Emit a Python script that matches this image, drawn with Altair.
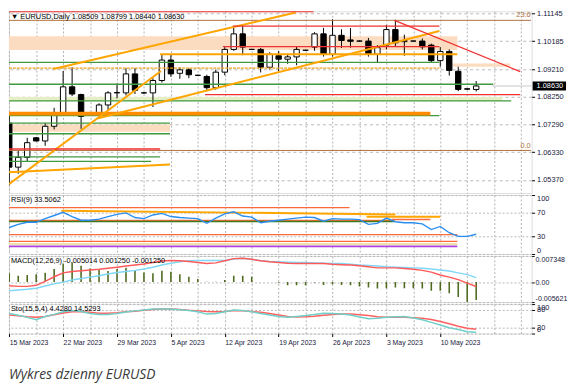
import altair as alt
import pandas as pd

# ---------------- data ----------------
bar_dates = ["2023-03-15","2023-03-16","2023-03-17","2023-03-19","2023-03-20","2023-03-21","2023-03-22",
             "2023-03-23","2023-03-24","2023-03-26","2023-03-27","2023-03-28","2023-03-29","2023-03-30",
             "2023-03-31","2023-04-02","2023-04-03","2023-04-04","2023-04-05","2023-04-06","2023-04-07",
             "2023-04-09","2023-04-10","2023-04-11","2023-04-12","2023-04-13","2023-04-14","2023-04-16",
             "2023-04-17","2023-04-18","2023-04-19","2023-04-20","2023-04-21","2023-04-23","2023-04-24",
             "2023-04-25","2023-04-26","2023-04-27","2023-04-28","2023-04-30","2023-05-01","2023-05-02",
             "2023-05-03","2023-05-04","2023-05-05","2023-05-07","2023-05-08","2023-05-09","2023-05-10",
             "2023-05-11","2023-05-12","2023-05-14","2023-05-15"]
opens = [1.0734,1.0581,1.0615,1.0683,1.0672,1.0723,1.0771,1.0860,1.0833,1.0770,1.0766,1.0797,1.0839,1.0839,
         1.0905,1.0839,1.0839,1.0882,1.0953,1.0907,1.0919,1.0900,1.0896,1.0857,1.0911,1.0990,1.1044,1.0990,
         1.0990,1.0928,1.0968,1.0956,1.0964,1.0987,1.0998,1.1044,1.0973,1.1039,1.1023,1.1019,1.1019,1.0973,
         1.1005,1.1059,1.1017,1.1019,1.1019,1.1005,1.0951,1.0983,1.0914,1.0853,1.08509]
highs = [1.0760,1.0638,1.0683,1.0686,1.0735,1.0787,1.0915,1.0928,1.0836,1.0772,1.0803,1.0845,1.0871,1.0925,
         1.0925,1.0842,1.0890,1.0973,1.0970,1.0928,1.0925,1.0902,1.0902,1.0920,1.0998,1.1065,1.1075,1.0992,
         1.0995,1.0980,1.0985,1.0975,1.1000,1.0989,1.1050,1.1065,1.1095,1.1060,1.1064,1.1021,1.1030,1.1005,
         1.1075,1.1093,1.1041,1.1021,1.1028,1.1010,1.0998,1.0990,1.0930,1.0855,1.08799]
lows = [1.0518,1.0558,1.0600,1.0670,1.0655,1.0712,1.0760,1.0828,1.0714,1.0764,1.0762,1.0780,1.0820,1.0830,
        1.0835,1.0836,1.0790,1.0875,1.0895,1.0888,1.0890,1.0898,1.0845,1.0850,1.0900,1.0985,1.0970,1.0988,
        1.0910,1.0920,1.0915,1.0940,1.0935,1.0985,1.0985,1.0965,1.0965,1.0995,1.0996,1.1017,1.0965,1.0945,
        1.0990,1.1000,1.0968,1.1017,1.0990,1.0945,1.0930,1.0899,1.0845,1.0850,1.08440]
closes = [1.0581,1.0615,1.0666,1.0672,1.0723,1.0768,1.0860,1.0835,1.0757,1.0768,1.0797,1.0839,1.0840,1.0905,
          1.0848,1.0839,1.0882,1.0953,1.0905,1.0919,1.0902,1.0900,1.0857,1.0911,1.0990,1.1044,1.0998,1.0990,
          1.0928,1.0973,1.0956,1.0964,1.0990,1.0987,1.1044,1.0973,1.1039,1.1021,1.1018,1.1019,1.0973,1.0996,
          1.1059,1.1013,1.1021,1.1019,1.0999,1.0951,1.0983,1.0917,1.0851,1.0852,1.08630]

rsi_values = [44.9,50.3,53.8,53.8,60.0,65.3,70.6,63.5,57.3,57.3,59.1,63.5,67.1,69.7,61.8,60.0,66.2,68.8,
              63.5,61.8,60.9,60.0,52.0,60.9,68.0,71.5,64.4,62.6,52.9,55.6,57.3,59.1,60.9,62.6,61.8,55.6,
              60.0,59.1,59.1,58.2,50.3,52.0,60.9,54.7,52.9,52.9,51.1,41.4,46.7,36.1,29.9,29.9,33.5]

macd_hist = [0.0025,0.0018,0.0020,0.0022,0.0026,0.0037,0.0052,0.0055,0.0046,0.0038,0.0034,0.0031,0.0037,
             0.0040,0.0034,0.0027,0.0025,0.0032,0.0029,0.0022,0.0015,0.0009,0.0001,0.0001,0.0006,0.0018,
             0.0018,0.0015,0.0000,0.0000,-0.0002,-0.0009,-0.0009,-0.0009,-0.0001,-0.0008,-0.0006,-0.0008,
             -0.0009,-0.0012,-0.0015,-0.0018,-0.0017,-0.0015,-0.0017,-0.0017,-0.0018,-0.0024,-0.0024,
             -0.0031,-0.0042,-0.005621,-0.005014]
macd_red = [-0.0010,-0.0012,-0.0012,-0.0009,0.0002,0.0015,0.0026,0.0030,0.0032,0.0034,0.0036,0.0039,0.0042,
            0.0045,0.0048,0.0051,0.0055,0.0059,0.0061,0.0060,0.0058,0.0055,0.0052,0.0054,0.0060,0.0066,
            0.0067,0.0064,0.0060,0.0057,0.0055,0.0053,0.0052,0.0052,0.0052,0.0052,0.0050,0.0049,0.0048,
            0.0046,0.0043,0.0040,0.0040,0.0040,0.0038,0.0036,0.0033,0.0028,0.0020,0.0014,0.0007,-0.0003,-0.00125]
macd_blue = [-0.0024,-0.0022,-0.0020,-0.0017,-0.0011,-0.0005,0.0000,0.0006,0.0010,0.0014,0.0018,0.0023,
             0.0027,0.0030,0.0033,0.0037,0.0042,0.0048,0.0053,0.0057,0.0060,0.0061,0.0061,0.0061,0.0061,
             0.0065,0.0067,0.0064,0.0060,0.0058,0.0057,0.0056,0.0055,0.0055,0.0054,0.0053,0.0052,0.0052,
             0.0050,0.0048,0.0047,0.0045,0.0043,0.0042,0.0041,0.0040,0.0039,0.0037,0.0034,0.0031,0.0026,
             0.0021,0.001258]

sto_main = [68,62,55,47,58,65,74,78,75,68,65,65,68,73,77,80,83,83,83,81,78,74,66,68,74,80,78,74,68,63,58,
            55,58,61,65,69,68,66,63,56,50,52,55,57,58,53,47,38,29,20,14,6,4.428]
sto_signal = [63,60,57,55,58,64,70,74,74,72,69,69,71,74,76,79,82,83,83,82,79,77,75,74,75,78,77,75,72,68,63,
              58,56,57,59,62,65,66,66,64,61,57,55,55,55,54,52,48,41,33,25,18,14.5293]

date_labels = ["15 Mar 2023", "22 Mar 2023", "29 Mar 2023", "5 Apr 2023", "12 Apr 2023",
               "19 Apr 2023", "26 Apr 2023", "3 May 2023", "10 May 2023"]
price_ticks = [1.11145, 1.10185, 1.09210, 1.08250, 1.07290, 1.06330, 1.05370]
rsi_ticks = [100, 70, 30, 0]
macd_ticks = [0.007348, 0.0, -0.005621]
macd_tick_labels = ["0.007348", "0.00", "-0.005621"]
sto_ticks = [100, 80, 20, 0]
last_price = 1.08630

title_main = "\u25bc EURUSD,Daily  1.08509 1.08799 1.08440 1.08630"
title_rsi = "RSI(9) 33.5062"
title_macd = "MACD(12,26,9) -0.005014 0.001250 -0.001250"
title_sto = "Sto(15,5,4) 4.4280 14.5293"
caption = "Wykres dzienny EURUSD"

# drawn objects on the price chart: (start bar, end bar, start price, end price)
red_lines = [(-0.03, 33.9, 1.1121, 1.1121), (24.9, 47.9, 1.1071, 1.1071), (23.8, 47.9, 1.1000, 1.1000),
             (21.8, 56.9, 1.0833, 1.0833), (-0.03, 16.8, 1.0644, 1.0644), (42.9, 56.9, 1.1091, 1.0913)]
orange_lines = [(-0.03, 16.9, 1.0522, 1.0915), (4.9, 31.9, 1.0922, 1.1118), (9.8, 47.9, 1.0750, 1.1054),
                (-0.03, 17.9, 1.0563, 1.0590), (16.8, 49.9, 1.0973, 1.0973)]
orange_dotted = [(-0.03, 47.9, 1.0925, 1.0925)]
orange_thick = [(-0.03, 46.9, 1.0767, 1.0767)]
green_lines = [(-0.03, 47.9, 1.0945, 1.0945), (-0.03, 53.9, 1.0869, 1.0869), (-0.03, 55.9, 1.0811, 1.0811),
               (-0.03, 47.9, 1.0760, 1.0760), (-0.03, 17.9, 1.0734, 1.0734), (-0.03, 17.9, 1.0697, 1.0697),
               (-0.03, 16.8, 1.0617, 1.0617), (-0.03, 15.8, 1.0601, 1.0601)]
fib_levels = [(-0.03, 58.1, 1.1091, 1.1091), (-0.03, 58.1, 1.0639, 1.0639)]
fib_names = ["23.6", "0.0"]
peach_zones = [(-0.03, 49.9, 1.1036, 1.0988), (-0.03, 17.9, 1.0729, 1.0704), (49.4, 55.8, 1.0941, 1.0930)]
green_zones = [(-0.03, 54.9, 1.0825, 1.0811)]

# drawn objects on the RSI window: (start bar, end bar, start value, end value)
rsi_coral = [(-0.03, 37.9, 78.6, 78.6), (42.6, 46.9, 58.5, 58.5), (-0.03, 42.9, 57.1, 57.1),
             (-0.03, 49.9, 32.8, 32.8), (-0.03, 49.9, 21.4, 21.4)]
rsi_gold = [(5.8, 43.0, 73.4, 67.1), (39.8, 48.0, 63.1, 63.1)]
rsi_green = [(-0.03, 42.9, 55.1, 55.1)]
rsi_beige = [(-0.03, 49.9, 16.8, 16.8)]
rsi_purple = [(-0.03, 49.9, 12.9, 12.9)]

# ---------------- layout ----------------
W = 532
H_MAIN, H_RSI, H_MACD, H_STO = 185, 60, 47, 30
BAR_PX = 9.14
X_MIN = -0.03
X_MAX = X_MIN + W / BAR_PX
FONT = "Liberation Sans"
LFS = 7.5
LABEL_COLOR = "#20203c"

bars = pd.DataFrame({"i": list(range(len(bar_dates))), "date": bar_dates, "open": opens,
                     "high": highs, "low": lows, "close": closes})
bars["fill"] = ["#ffffff" if c >= o else "#000000" for o, c in zip(opens, closes)]
bars["rsi"] = rsi_values
bars["hist"] = macd_hist
bars["mred"] = macd_red
bars["mblue"] = macd_blue
bars["smain"] = sto_main
bars["ssig"] = sto_signal
bars["zero"] = 0.0
bars["bx1"] = [max(X_MIN, i - 0.3) for i in bars["i"]]
bars["bx2"] = [i + 0.3 for i in bars["i"]]

grid_vals = [3 * k for k in range(int(X_MAX // 3) + 1)]
xscale = alt.Scale(domain=[X_MIN, X_MAX], nice=False, zero=False)
grid_axis = alt.Axis(values=grid_vals, labels=False, ticks=False, domain=False, title=None,
                     grid=True, gridDash=[2, 2], gridColor="#b0b0b0", gridWidth=1,
                     minExtent=0, maxExtent=0, labelPadding=0, offset=0)
js_dates = "[" + ",".join("'" + d + "'" for d in date_labels) + "]"
last_lab = 6 * (len(date_labels) - 1)
lab_test = f"datum.value % 6 == 0 && datum.value <= {last_lab}"
date_axis = alt.Axis(values=grid_vals, labelExpr=f"{lab_test} ? {js_dates}[datum.value / 6] : ''",
                     domain=False, title=None, grid=True, gridDash=[2, 2], gridColor="#b0b0b0",
                     labelAlign="left", labelFont=FONT, labelFontSize=7, labelColor=LABEL_COLOR,
                     labelPadding=2, tickSize=3, labelOverlap=False, labelFlush=False,
                     tickColor={"condition": {"test": lab_test, "value": "black"}, "value": "transparent"})


def yaxis(values, **kw):
    base = dict(values=values, orient="right", domain=False, title=None, grid=True, gridDash=[2, 2],
                gridColor="#b8b8b8", labelFont=FONT, labelFontSize=LFS, labelColor=LABEL_COLOR,
                tickSize=3, tickColor="black", labelPadding=2, labelOverlap=False, minExtent=0)
    base.update(kw)
    return alt.Axis(**base)


def seg_layer(rows, ys, yax, xax, color, width, dash=None, opacity=1.0):
    df = pd.DataFrame(rows, columns=["x1", "x2", "y1", "y2"])
    kw = dict(color=color, strokeWidth=width, clip=True, opacity=opacity)
    if dash:
        kw["strokeDash"] = dash
    return alt.Chart(df).mark_rule(**kw).encode(
        x=alt.X("x1:Q", scale=xscale, axis=xax), x2="x2:Q",
        y=alt.Y("y1:Q", scale=ys, axis=yax), y2="y2:Q")


def zone_layer(rows, ys, yax, xax, color):
    df = pd.DataFrame(rows, columns=["x1", "x2", "y1", "y2"])
    return alt.Chart(df).mark_rect(color=color, clip=True).encode(
        x=alt.X("x1:Q", scale=xscale, axis=xax), x2="x2:Q",
        y=alt.Y("y1:Q", scale=ys, axis=yax), y2="y2:Q")


def panel_title(text, ypx):
    return alt.Chart(pd.DataFrame({"t": [text]})).mark_text(
        align="left", baseline="middle", font=FONT, fontSize=7.5, color="black").encode(
        text="t:N", x=alt.value(2), y=alt.value(ypx))


# ---------------- main price panel ----------------
P_TOP = 1.11145 + 2.3 / 2930
P_BOT = P_TOP - H_MAIN / 2930
ys_main = alt.Scale(domain=[P_BOT, P_TOP], nice=False, zero=False)
yax_main = yaxis(price_ticks, format=".5f", gridDash=[3, 3])

main_layers = [
    zone_layer(peach_zones, ys_main, yax_main, grid_axis, "#fcdcc0"),
    zone_layer(green_zones, ys_main, yax_main, grid_axis, "#e6eec4"),
]
wicks = alt.Chart(bars).mark_rule(color="black", strokeWidth=1, clip=True).encode(
    x=alt.X("i:Q", scale=xscale, axis=grid_axis),
    y=alt.Y("low:Q", scale=ys_main, axis=yax_main), y2="high:Q")
bodies = alt.Chart(bars).mark_rect(stroke="black", strokeWidth=1, clip=True).encode(
    x=alt.X("bx1:Q", scale=xscale, axis=grid_axis), x2="bx2:Q",
    y=alt.Y("open:Q", scale=ys_main, axis=yax_main), y2="close:Q",
    fill=alt.Fill("fill:N", scale=None))
main_layers += [wicks, bodies]
main_layers += [
    seg_layer(fib_levels, ys_main, yax_main, grid_axis, "#b0703c", 1),
    seg_layer(green_lines, ys_main, yax_main, grid_axis, "#3f9a3f", 1.3),
    seg_layer(orange_thick, ys_main, yax_main, grid_axis, "#ff8c00", 4),
    seg_layer(orange_dotted, ys_main, yax_main, grid_axis, "#f0a020", 1.3, dash=[3, 1]),
    seg_layer(orange_lines, ys_main, yax_main, grid_axis, "#ffa500", 2),
    seg_layer(red_lines, ys_main, yax_main, grid_axis, "#f03030", 1.3),
]
price_df = pd.DataFrame({"x1": [len(bar_dates) + 0.8], "x2": [X_MAX], "p": [last_price],
                         "ptop": [last_price + 0.00155], "pbot": [last_price - 0.00155],
                         "lab": [f"{last_price:.5f}"]})
main_layers.append(alt.Chart(price_df).mark_rule(color="#c8c8c8", strokeWidth=1, clip=True).encode(
    x=alt.X("x1:Q", scale=xscale, axis=grid_axis), x2="x2:Q",
    y=alt.Y("p:Q", scale=ys_main, axis=yax_main)))
main_layers.append(alt.Chart(price_df).mark_rect(color="black", clip=False).encode(
    x=alt.value(W + 1), x2=alt.value(W + 35),
    y=alt.Y("ptop:Q", scale=ys_main, axis=yax_main), y2="pbot:Q"))
main_layers.append(alt.Chart(price_df).mark_text(
    align="left", baseline="middle", font=FONT, fontSize=LFS, color="white").encode(
    x=alt.value(W + 5), y=alt.Y("p:Q", scale=ys_main, axis=yax_main), text="lab:N"))
fib_df = pd.DataFrame({"p": [r[2] for r in fib_levels], "name": fib_names})
main_layers.append(alt.Chart(fib_df).mark_text(
    align="right", baseline="bottom", font=FONT, fontSize=7.5, color="#b0703c", dy=-1).encode(
    x=alt.value(W - 1), y=alt.Y("p:Q", scale=ys_main, axis=yax_main), text="name:N"))
main_layers.append(panel_title(title_main, 6))
main = alt.layer(*main_layers).properties(width=W, height=H_MAIN)

# ---------------- RSI ----------------
ys_rsi = alt.Scale(domain=[0, 100], nice=False, zero=False)
yax_rsi = yaxis(rsi_ticks, labelFlush=True)
rsi_layers = [
    seg_layer(rsi_purple, ys_rsi, yax_rsi, grid_axis, "#b040e0", 2),
    seg_layer(rsi_beige, ys_rsi, yax_rsi, grid_axis, "#efe2a8", 2),
    seg_layer(rsi_coral, ys_rsi, yax_rsi, grid_axis, "#ff6a3d", 1.3),
    seg_layer(rsi_green, ys_rsi, yax_rsi, grid_axis, "#3d7a1c", 1.6),
    seg_layer(rsi_gold, ys_rsi, yax_rsi, grid_axis, "#ffa500", 2),
    alt.Chart(bars).mark_line(color="#2a8ef0", strokeWidth=1.4, clip=True).encode(
        x=alt.X("i:Q", scale=xscale, axis=grid_axis),
        y=alt.Y("rsi:Q", scale=ys_rsi, axis=yax_rsi)),
    panel_title(title_rsi, 5),
]
rsi = alt.layer(*rsi_layers).properties(width=W, height=H_RSI)

# ---------------- MACD ----------------
ys_macd = alt.Scale(domain=[min(macd_ticks), max(macd_ticks)], nice=False, zero=False)
js_macd = "[" + ",".join("'" + s + "'" for s in macd_tick_labels) + "]"
yax_macd = yaxis(macd_ticks, labelFlush=True, labelFontSize=7.2, tickSize=2.5, labelPadding=1,
                 labelExpr=f"datum.value > 0.001 ? {js_macd}[0] : (datum.value < -0.001 ? {js_macd}[2] : {js_macd}[1])")
macd_layers = [
    alt.Chart(bars).mark_rule(color="#4f6b1f", strokeWidth=1.6, clip=True).encode(
        x=alt.X("i:Q", scale=xscale, axis=grid_axis),
        y=alt.Y("zero:Q", scale=ys_macd, axis=yax_macd), y2="hist:Q"),
    alt.Chart(bars).mark_line(color="#7fd8f8", strokeWidth=1.5, clip=True).encode(
        x=alt.X("i:Q", scale=xscale, axis=grid_axis),
        y=alt.Y("mblue:Q", scale=ys_macd, axis=yax_macd)),
    alt.Chart(bars).mark_line(color="#ff5a5a", strokeWidth=1.5, clip=True).encode(
        x=alt.X("i:Q", scale=xscale, axis=grid_axis),
        y=alt.Y("mred:Q", scale=ys_macd, axis=yax_macd)),
    panel_title(title_macd, 5.5),
]
macd = alt.layer(*macd_layers).properties(width=W, height=H_MACD)

# ---------------- Stochastic ----------------
ys_sto = alt.Scale(domain=[0, 100], nice=False, zero=False)
yax_sto = yaxis(sto_ticks, labelFlush=True)
sto_layers = [
    alt.Chart(bars).mark_line(color="#ff6060", strokeWidth=1.5, clip=True).encode(
        x=alt.X("i:Q", scale=xscale, axis=date_axis),
        y=alt.Y("ssig:Q", scale=ys_sto, axis=yax_sto)),
    alt.Chart(bars).mark_line(color="#70d0c8", strokeWidth=1.5, clip=True).encode(
        x=alt.X("i:Q", scale=xscale, axis=date_axis),
        y=alt.Y("smain:Q", scale=ys_sto, axis=yax_sto)),
    panel_title(title_sto, 5),
    alt.Chart(pd.DataFrame({"t": [caption]})).mark_text(
        align="left", baseline="middle", font="Open Sans", fontSize=14, fontStyle="italic",
        color="#3a3a3a").encode(text="t:N", x=alt.value(0), y=alt.value(H_STO + 42)),
]
sto = alt.layer(*sto_layers).properties(width=W, height=H_STO)

chart = alt.vconcat(main, rsi, macd, sto, spacing=2, bounds="flush").properties(
    padding={"left": 0, "top": -3, "right": 0, "bottom": 0},
).configure_view(stroke="black", strokeWidth=1).configure(background="white")

chart.save("out.html", embed_options={"renderer": "svg", "actions": False})
